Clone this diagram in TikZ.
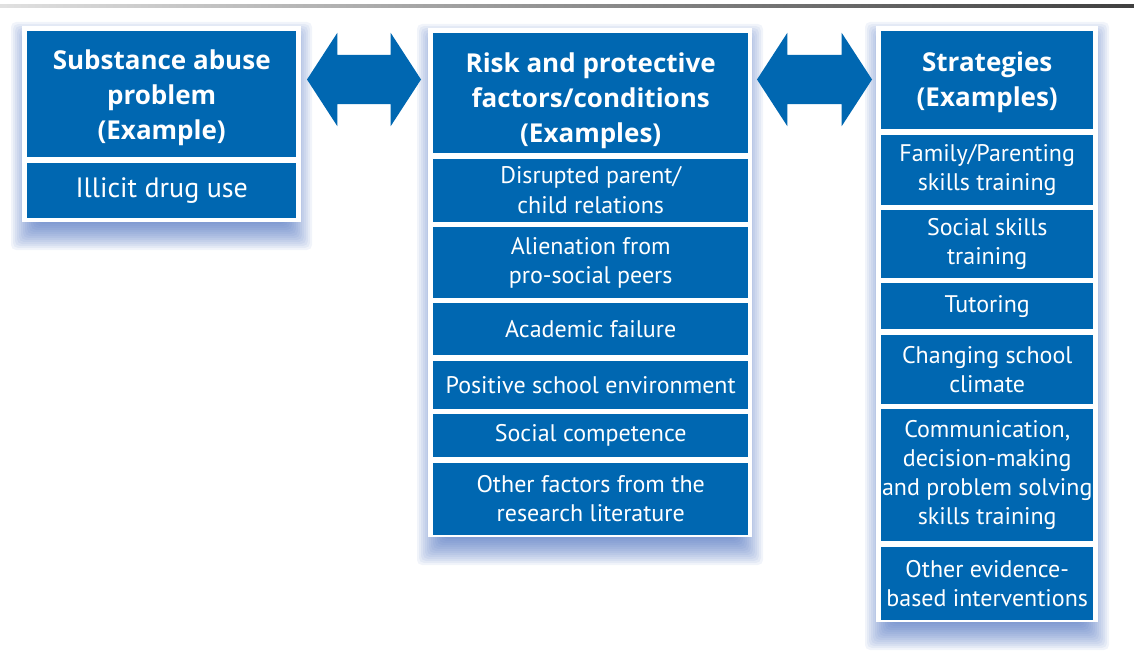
\documentclass[tikz,border=0pt]{standalone}
\usepackage{fontspec}
\setmainfont{PT Sans}
\newfontfamily\headfont{Open Sans}
\usetikzlibrary{positioning,shapes.arrows}

\definecolor{boxblue}{RGB}{0,103,177}
\definecolor{shadeblue}{RGB}{60,100,185}

% soft shadow under a white frame: x1 y1 x2 y2
\newcommand{\softshadow}[4]{%
  \foreach \e in {14,12,...,-14} {
    \fill[shadeblue, opacity=0.07, rounded corners=5pt]
      (#1+3-\e, #2+10-\e) rectangle (#3-3+\e, #4+14+\e);
  }
  \fill[white] (#1,#2) rectangle (#3,#4);
}

\tikzset{
  head/.style={fill=boxblue, inner sep=0pt, anchor=north west},
  headtext/.style={text=white, align=center, inner sep=0pt,
    font=\headfont\bfseries\fontsize{26}{35}\selectfont},
  item/.style={fill=boxblue, text=white, align=center, inner sep=0pt,
    font=\fontsize{24}{29}\selectfont},
  dblarrow/.style={double arrow, fill=boxblue, inner xsep=0pt,
    inner ysep=24.5pt, double arrow head extend=22pt,
    double arrow tip angle=114}
}

\begin{document}
\begin{tikzpicture}[x=1pt, y=-1pt]
    \useasboundingbox (0,0) rectangle (1134,671);
    % rule on top
    \shade[left color=black!12, right color=black!75] (0,4.5) rectangle (1134,7.5);
    % frames with shadows
    \softshadow{22}{26}{301}{222}
    \softshadow{428}{28}{752}{537}
    \softshadow{876}{26}{1098}{622}
    % Problem column
    \node[head, minimum width=269pt, minimum height=126pt] (prob) at (27,31) {};
    \node[headtext] (probtxt) at ([yshift=-4pt]prob.center)
        {Substance abuse\\problem\\(Example)};
    \node[item, minimum width=269pt, minimum height=55pt, below=5pt of prob,
          font=\fontsize{28}{32}\selectfont] (drug) {Illicit drug use};
    % Factors column
    \node[head, minimum width=315pt, minimum height=120pt] (risk) at (433,33) {};
    \node[headtext] (risktxt) at ([yshift=-8pt]risk.center)
        {Risk and protective\\factors/conditions\\(Examples)};
    \node[item, minimum width=315pt, minimum height=63pt, below=5pt of risk] (rel)
        {Disrupted parent/\\child relations};
    \node[item, minimum width=315pt, minimum height=71pt, below=5pt of rel] (alien)
        {Alienation from\\pro-social peers};
    \node[item, minimum width=315pt, minimum height=52pt, below=5pt of alien] (acad)
        {Academic failure};
    \node[item, minimum width=315pt, minimum height=48pt, below=5pt of acad] (env)
        {Positive school environment};
    \node[item, minimum width=315pt, minimum height=43pt, below=5pt of env] (comp)
        {Social competence};
    \node[item, minimum width=315pt, minimum height=72pt, below=5pt of comp] (lit)
        {Other factors from the\\research literature};
    % Strategies column
    \node[head, minimum width=212pt, minimum height=98pt] (strat) at (881,31) {};
    \node[headtext] (strattxt) at ([yshift=-2pt]strat.center)
        {Strategies\\(Examples)};
    \node[item, minimum width=212pt, minimum height=70pt, below=5pt of strat] (fam)
        {Family/Parenting\\skills training};
    \node[item, minimum width=212pt, minimum height=68pt, below=5pt of fam] (soc)
        {Social skills\\training};
    \node[item, minimum width=212pt, minimum height=46pt, below=5pt of soc] (tut)
        {Tutoring};
    \node[item, minimum width=212pt, minimum height=69pt, below=5pt of tut] (clim)
        {Changing school\\climate};
    \node[item, minimum width=212pt, minimum height=132pt, below=5pt of clim] (comm)
        {Communication,\\decision-making\\and problem solving\\skills training};
    \node[item, minimum width=212pt, minimum height=73pt, below=5pt of comm] (evid)
        {Other evidence-\\based interventions};
    % Double arrows
    \node[dblarrow, minimum height=114pt] (arrA) at (364,79.5) {};
    \node[dblarrow, minimum height=115pt] (arrB) at (814.5,79.5) {};
\end{tikzpicture}
\end{document}
